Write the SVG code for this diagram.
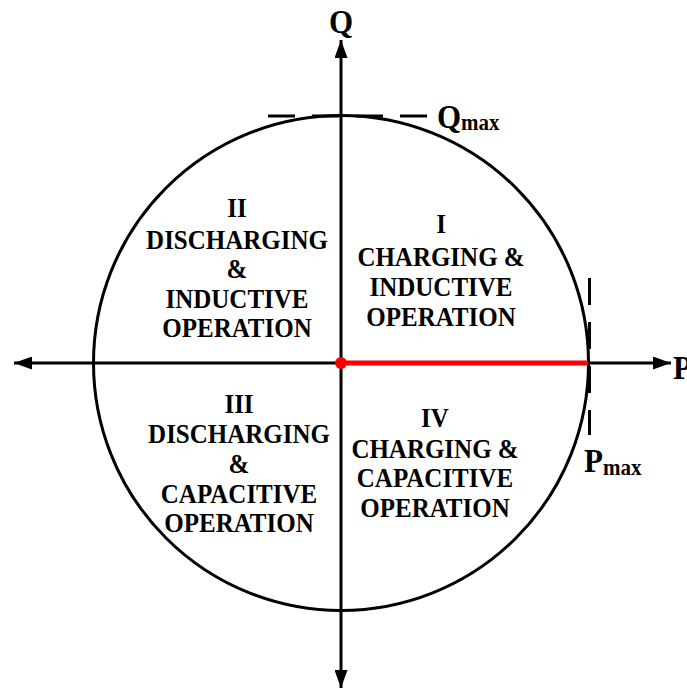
<svg xmlns="http://www.w3.org/2000/svg" width="687" height="689" viewBox="0 0 687 689">
<style>
.t{font-family:"Liberation Serif","Times New Roman",serif;font-weight:bold;fill:#000;text-anchor:middle}
.s{text-anchor:start}
.q{font-size:25px}
.ax{stroke:#000;stroke-width:3;fill:none}
.dash{stroke:#000;stroke-width:3;fill:none;stroke-dasharray:27 17}
</style>
<defs>
<marker id="arr" viewBox="0 0 18 13" refX="18" refY="6.5" markerWidth="18" markerHeight="13" markerUnits="userSpaceOnUse" orient="auto">
<path d="M0,0 L18,6.5 L0,13 Z" fill="#000"/>
</marker>
</defs>
<rect width="687" height="689" fill="#fff"/>
<g id="circle"><circle cx="341" cy="363" r="247.5" class="ax"/></g>
<g id="connectors">
<line x1="341" y1="363" x2="14" y2="363" class="ax" marker-end="url(#arr)"/>
<line x1="341" y1="363" x2="671" y2="363" class="ax" marker-end="url(#arr)"/>
<line x1="341" y1="363" x2="341" y2="40" class="ax" marker-end="url(#arr)"/>
<line x1="341" y1="363" x2="341" y2="688" class="ax" marker-end="url(#arr)"/>
<line x1="268" y1="116" x2="427" y2="116" class="dash"/>
<line x1="589.5" y1="278" x2="589.5" y2="435" class="dash"/>
<line x1="341" y1="363" x2="588" y2="363" stroke="#f00" stroke-width="5"/>
</g>
<g id="origin"><circle cx="341" cy="363" r="6" fill="#f00"/></g>
<g id="axis-labels">
<text class="t" transform="translate(341,33) scale(1,1.1)" font-size="31">Q</text>
<text class="t s" transform="translate(673,379) scale(1,1.1)" font-size="31">P</text>
</g>
<g id="qmax">
<text class="t s" transform="translate(437,128) scale(1,1.1)" font-size="31">Q<tspan font-size="21" dy="2">max</tspan></text>
</g>
<g id="pmax">
<text class="t s" transform="translate(584,472) scale(1,1.1)" font-size="31">P<tspan font-size="21" dy="3">max</tspan></text>
</g>
<g id="quadrant-1" class="t q">
<text transform="translate(441,233) scale(1,1.09)">I</text>
<text transform="translate(441,266) scale(1,1.09)">CHARGING &amp;</text>
<text transform="translate(441,296) scale(1,1.09)">INDUCTIVE</text>
<text transform="translate(441,326) scale(1,1.09)">OPERATION</text>
</g>
<g id="quadrant-2" class="t q">
<text transform="translate(237,217) scale(1,1.09)">II</text>
<text transform="translate(237,249) scale(1,1.09)">DISCHARGING</text>
<text transform="translate(237,278) scale(1,1.09)">&amp;</text>
<text transform="translate(237,308) scale(1,1.09)">INDUCTIVE</text>
<text transform="translate(237,337) scale(1,1.09)">OPERATION</text>
</g>
<g id="quadrant-3" class="t q">
<text transform="translate(239,413) scale(1,1.09)">III</text>
<text transform="translate(239,443) scale(1,1.09)">DISCHARGING</text>
<text transform="translate(239,473) scale(1,1.09)">&amp;</text>
<text transform="translate(239,503) scale(1,1.09)">CAPACITIVE</text>
<text transform="translate(239,532) scale(1,1.09)">OPERATION</text>
</g>
<g id="quadrant-4" class="t q">
<text transform="translate(435,427) scale(1,1.09)">IV</text>
<text transform="translate(435,458) scale(1,1.09)">CHARGING &amp;</text>
<text transform="translate(435,487) scale(1,1.09)">CAPACITIVE</text>
<text transform="translate(435,517) scale(1,1.09)">OPERATION</text>
</g>
</svg>
